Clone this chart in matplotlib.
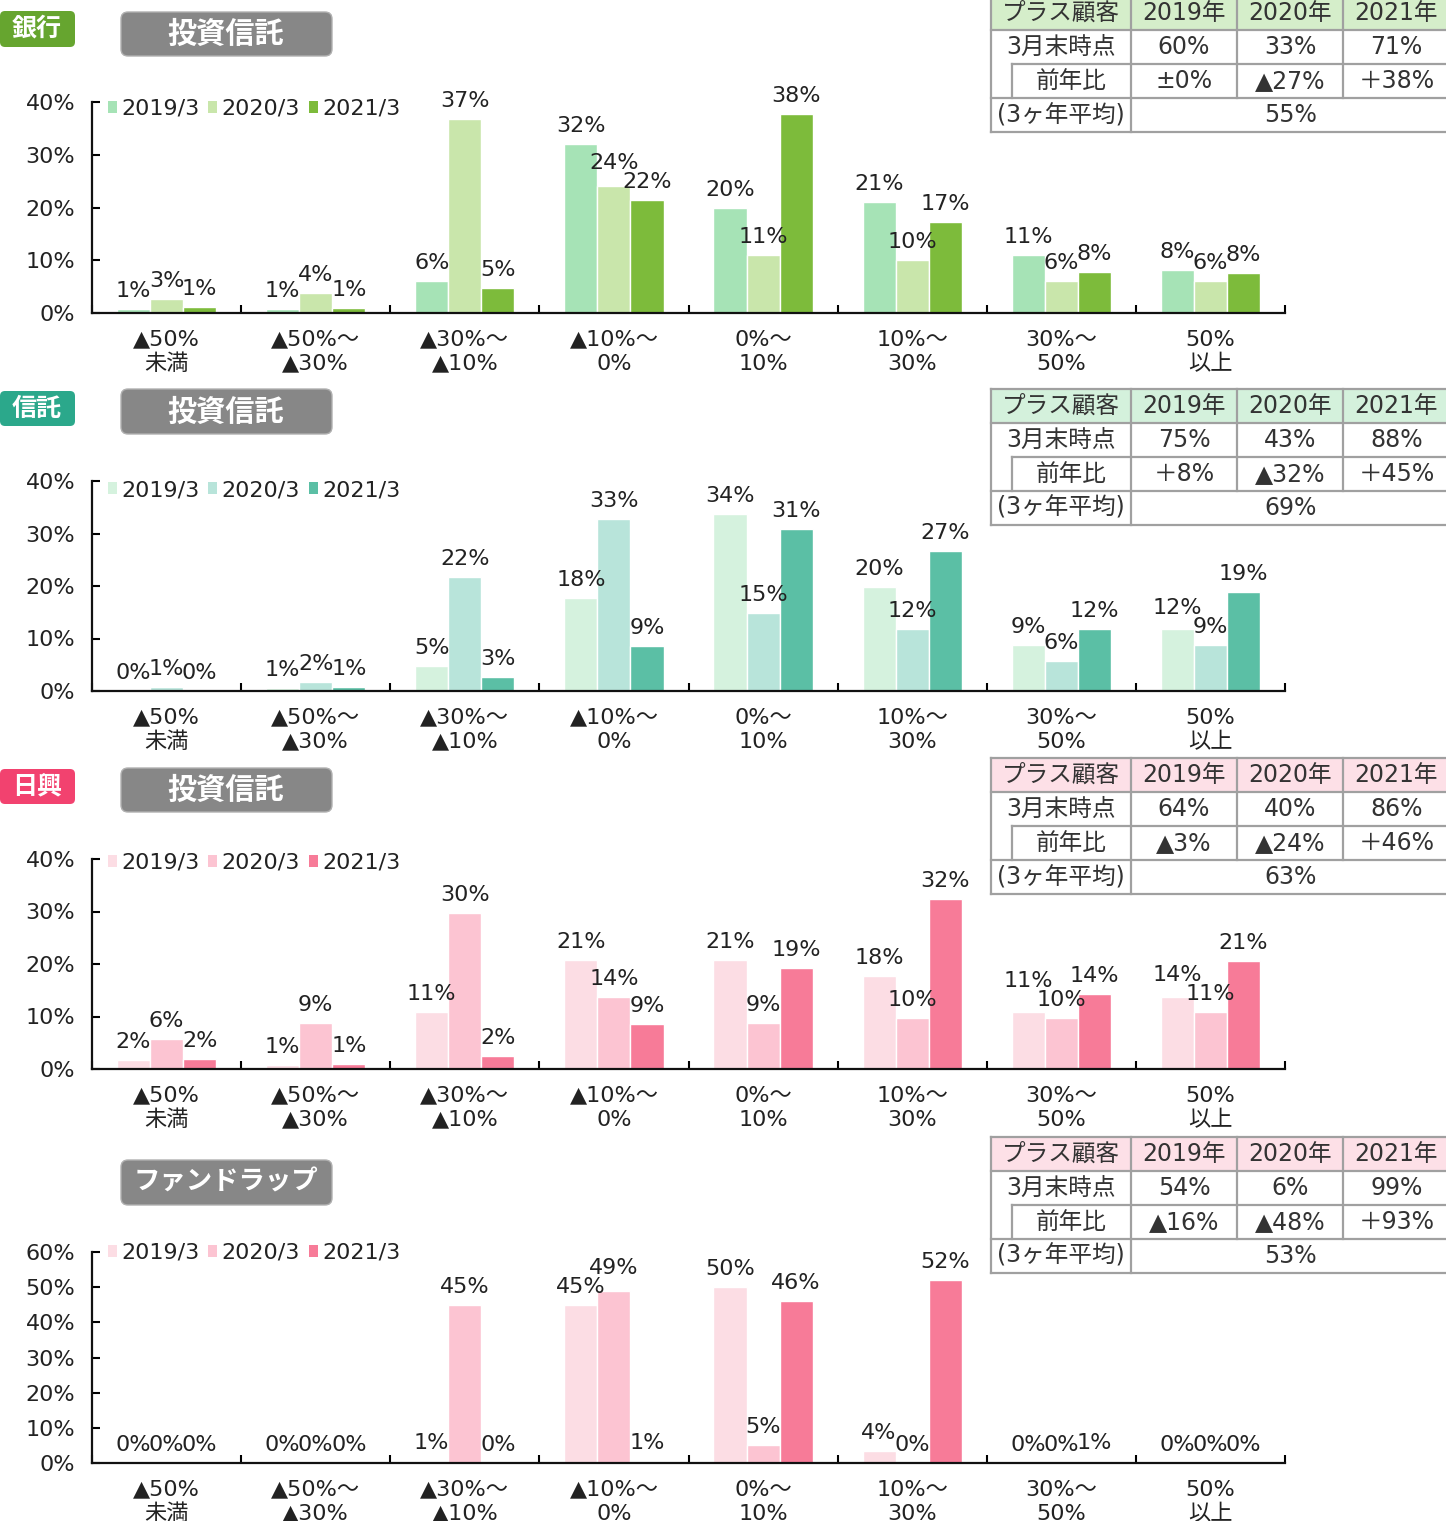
import numpy as np
import matplotlib
matplotlib.use('Agg')
import matplotlib.pyplot as plt
from matplotlib.patches import FancyBboxPatch, Rectangle, Patch

# DejaVu for latin/digits (Verdana-like, as in the original), Noto CJK for Japanese
plt.rcParams['font.family'] = ['DejaVu Sans', 'Noto Sans CJK JP']

# ---- data ----
categories = ['▲50%\n未満', '▲50%～\n▲30%', '▲30%～\n▲10%', '▲10%～\n0%',
              '0%～\n10%', '10%～\n30%', '30%～\n50%', '50%\n以上']
series_names = ['2019/3', '2020/3', '2021/3']

bank_2019 = [0.8, 0.8, 6.0, 32.0, 20.0, 21.0, 11.0, 8.2]
bank_2020 = [2.7, 3.8, 36.8, 24.0, 11.0, 10.0, 6.0, 6.0]
bank_2021 = [1.1, 0.9, 4.8, 21.5, 37.8, 17.3, 7.7, 7.5]

trust_2019 = [0.0, 0.6, 4.8, 17.8, 33.8, 19.8, 8.8, 11.8]
trust_2020 = [0.7, 1.8, 21.8, 32.8, 14.8, 11.8, 5.8, 8.8]
trust_2021 = [0.0, 0.7, 2.6, 8.6, 30.8, 26.6, 11.8, 18.8]

nikko_2019 = [1.8, 0.8, 10.8, 20.8, 20.8, 17.8, 10.8, 13.8]
nikko_2020 = [5.8, 8.8, 29.8, 13.8, 8.8, 9.8, 9.8, 10.8]
nikko_2021 = [1.9, 1.0, 2.4, 8.5, 19.2, 32.3, 14.2, 20.5]

wrap_2019 = [0.0, 0.0, 0.6, 45.0, 50.0, 3.5, 0.0, 0.0]
wrap_2020 = [0.0, 0.0, 45.0, 49.0, 5.0, 0.0, 0.0, 0.0]
wrap_2021 = [0.0, 0.0, 0.0, 0.6, 46.0, 52.0, 0.6, 0.0]

table_header = ['プラス顧客', '2019年', '2020年', '2021年']
bank_march = ['60%', '33%', '71%']
bank_yoy = ['±0%', '▲27%', '＋38%']
bank_avg = '55%'
trust_march = ['75%', '43%', '88%']
trust_yoy = ['＋8%', '▲32%', '＋45%']
trust_avg = '69%'
nikko_march = ['64%', '40%', '86%']
nikko_yoy = ['▲3%', '▲24%', '＋46%']
nikko_avg = '63%'
wrap_march = ['54%', '6%', '99%']
wrap_yoy = ['▲16%', '▲48%', '＋93%']
wrap_avg = '53%'

# ---- styling ----
green_cols = ['#a6e3b6', '#c9e6ab', '#7dbb3b']
teal_cols = ['#d5f2de', '#b8e4da', '#5bbfa5']
pink_cols = ['#fcdde4', '#fcc4d2', '#f77b98']

W, H = 1446, 1521
fig = plt.figure(figsize=(W / 100, H / 100), dpi=100)
FS = 16
TFS = 17
TXT = '#222222'
BW = 0.222          # bar width (category units)
CAT_PX = 149.1      # one category in pixels
LABEL_OFF = 8       # px between bar top and label
LABEL_H = 19        # px needed between stacked labels


def px_axes(left, top, right, bottom):
    return fig.add_axes([left / W, 1 - bottom / H, (right - left) / W, (bottom - top) / H])


def label_width(s):
    # rough DejaVu width in px at FS
    return sum(21 if c == '%' else 14 for c in s)


def place_labels(ax, pos, heights, px_per_unit):
    # heights: list of 3 bar values in one category -> label baselines (px), nudged apart
    texts = [f'{int(v + 0.5)}%' for v in heights]
    ys = [v * px_per_unit + LABEL_OFF for v in heights]
    spacing = BW * CAT_PX
    for _ in range(2):
        for i in range(len(ys) - 1):
            j = i + 1
            overlap_x = (label_width(texts[i]) + label_width(texts[j])) / 2 - spacing > 4
            if overlap_x and abs(ys[i] - ys[j]) < LABEL_H:
                hi, lo = (i, j) if heights[i] >= heights[j] else (j, i)
                ys[hi] = ys[lo] + LABEL_H
    for p, t, y in zip(pos, texts, ys):
        ax.annotate(t, (p, 0), xytext=(0, y * 0.72), textcoords='offset points',
                    ha='center', va='bottom', fontsize=FS, color=TXT)


def draw_panel(top, bottom, values, colors, ymax, leg_dy):
    ax = px_axes(92, top, 1285, bottom)
    x = np.arange(len(categories))
    for i, (vals, col) in enumerate(zip(values, colors)):
        ax.bar(x + (i - 1) * BW, vals, width=BW, color=col, edgecolor='white', linewidth=1, zorder=2)
    ppu = (bottom - top) / ymax
    for k in range(len(categories)):
        place_labels(ax, [k - BW, k, k + BW], [v[k] for v in values], ppu)
    ax.set_xlim(-0.5, len(categories) - 0.5)
    ax.set_ylim(0, ymax)
    ax.set_yticks(np.arange(0, ymax + 1, 10))
    ax.set_yticklabels([f'{int(t)}%' for t in np.arange(0, ymax + 1, 10)])
    ax.set_xticks(x)
    ax.set_xticklabels(categories, linespacing=1.25)
    ax.set_xticks(np.arange(-0.5, len(categories)), minor=True)
    ax.tick_params(axis='x', which='major', length=0, pad=12, labelsize=FS, labelcolor=TXT)
    ax.tick_params(axis='x', which='minor', direction='in', length=6, width=1.5)
    ax.tick_params(axis='y', direction='in', length=6, width=1.5, pad=12, labelsize=FS, labelcolor=TXT)
    for s in ['top', 'right']:
        ax.spines[s].set_visible(False)
    for s in ['left', 'bottom']:
        ax.spines[s].set_linewidth(1.6)
        ax.spines[s].set_color('#111111')
    handles = [Patch(facecolor=c, edgecolor='none') for c in colors]
    ax.legend(handles, series_names, loc='center left',
              bbox_to_anchor=(0.004, 1 - leg_dy / (bottom - top)), ncol=3, frameon=False,
              fontsize=FS, handlelength=0.4, handleheight=0.4, handletextpad=0.2,
              columnspacing=0.4, borderpad=0, labelcolor=TXT)
    return ax


draw_panel(102, 313, [bank_2019, bank_2020, bank_2021], green_cols, 40, 7)
draw_panel(481, 691, [trust_2019, trust_2020, trust_2021], teal_cols, 40, 9)
draw_panel(859, 1069, [nikko_2019, nikko_2020, nikko_2021], pink_cols, 40, 4)
draw_panel(1252, 1463, [wrap_2019, wrap_2020, wrap_2021], pink_cols, 60, 1)

# ---- overlay: badges, titles, tables ----
ov = fig.add_axes([0, 0, 1, 1], zorder=10)
ov.set_xlim(0, W)
ov.set_ylim(H, 0)
ov.axis('off')
ov.patch.set_alpha(0)


def badge(text, y0, y1, color):
    ov.add_patch(FancyBboxPatch((2, y0 + 3), 71, y1 - y0 - 6,
                                boxstyle='round,pad=2,rounding_size=5', fc=color, ec='none'))
    ov.text(37, (y0 + y1) / 2, text, ha='center', va='center', fontsize=18,
            color='white', fontweight='bold', family='Noto Sans CJK JP')


def title_box(text, y0, y1, fs=21):
    ov.add_patch(FancyBboxPatch((123, y0 + 2), 207, y1 - y0 - 4,
                                boxstyle='round,pad=2,rounding_size=7', fc='#878787', ec='#b0b0b0', lw=1))
    ov.text(226, (y0 + y1) / 2, text, ha='center', va='center', fontsize=fs,
            color='white', fontweight='bold', family='Noto Sans CJK JP')


def table(y0, march, yoy, avg, head_col, rh=34, head_h=34):
    cx = [991, 1131, 1237, 1343, 1460]
    gc = '#a0a0a0'
    lw = 1.6
    ov.add_patch(Rectangle((cx[0], y0), cx[-1] - cx[0], head_h, fc=head_col, ec='none'))
    ys = [y0, y0 + head_h, y0 + head_h + rh, y0 + head_h + 2 * rh, y0 + head_h + 3 * rh]
    for i, yy in enumerate(ys):
        xs = 1012 if i == 2 else cx[0]
        ov.plot([xs, cx[-1]], [yy, yy], color=gc, lw=lw)
    ov.plot([cx[0], cx[0]], [ys[0], ys[-1]], color=gc, lw=lw)
    ov.plot([1012, 1012], [ys[2], ys[3]], color=gc, lw=lw)
    ov.plot([cx[1], cx[1]], [ys[0], ys[-1]], color=gc, lw=lw)
    for c in cx[2:4]:
        ov.plot([c, c], [ys[0], ys[3]], color=gc, lw=lw)
    tc = '#333333'
    mids = [(cx[i] + cx[i + 1]) / 2 for i in range(3)]
    mids.append((1343 + 1450) / 2)
    for i, t in enumerate(table_header):
        ov.text(mids[i], (ys[0] + ys[1]) / 2, t, ha='center', va='center', fontsize=TFS, color=tc)
    ov.text(mids[0], (ys[1] + ys[2]) / 2, '3月末時点', ha='center', va='center', fontsize=TFS, color=tc)
    ov.text((1012 + 1131) / 2, (ys[2] + ys[3]) / 2, '前年比', ha='center', va='center', fontsize=TFS, color=tc)
    ov.text(mids[0], (ys[3] + ys[4]) / 2, '(3ヶ年平均)', ha='center', va='center', fontsize=TFS, color=tc)
    for i in range(3):
        ov.text(mids[i + 1], (ys[1] + ys[2]) / 2, march[i], ha='center', va='center', fontsize=TFS, color=tc)
        ov.text(mids[i + 1], (ys[2] + ys[3]) / 2, yoy[i], ha='center', va='center', fontsize=TFS, color=tc)
    ov.text((1131 + 1450) / 2, (ys[3] + ys[4]) / 2, avg, ha='center', va='center', fontsize=TFS, color=tc)


badge('銀行', 10, 48, '#66a52f')
badge('信託', 390, 427, '#2ba88b')
badge('日興', 768, 805, '#f2426f')

title_box('投資信託', 12, 56)
title_box('投資信託', 389, 434)
title_box('投資信託', 768, 812)
title_box('ファンドラップ', 1160, 1205, fs=19)

table(-4, bank_march, bank_yoy, bank_avg, '#d5eeca')
table(389, trust_march, trust_yoy, trust_avg, '#d4f1dc')
table(758, nikko_march, nikko_yoy, nikko_avg, '#fde0e7')
table(1137, wrap_march, wrap_yoy, wrap_avg, '#fde0e7')

fig.savefig('out.png', dpi=100)
